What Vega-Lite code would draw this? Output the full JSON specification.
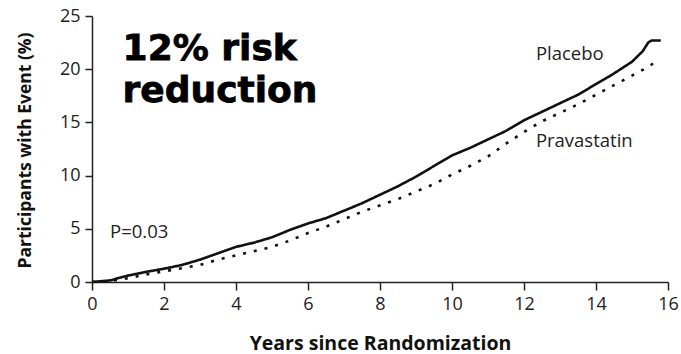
{
  "$schema": "https://vega.github.io/schema/vega-lite/v6.json",
  "width": 576,
  "height": 266,
  "autosize": {"type": "none"},
  "padding": {"left": 92, "top": 16, "right": 13, "bottom": 72},
  "background": "white",
  "config": {
    "view": {"stroke": null},
    "font": "Open Sans"
  },
  "datasets": {
    "curves": [
      {"years": 0, "pct": 0, "group": "Placebo"},
      {"years": 0.5, "pct": 0.15, "group": "Placebo"},
      {"years": 1.0, "pct": 0.6, "group": "Placebo"},
      {"years": 1.5, "pct": 0.95, "group": "Placebo"},
      {"years": 2.0, "pct": 1.25, "group": "Placebo"},
      {"years": 2.5, "pct": 1.6, "group": "Placebo"},
      {"years": 3.0, "pct": 2.1, "group": "Placebo"},
      {"years": 3.5, "pct": 2.7, "group": "Placebo"},
      {"years": 4.0, "pct": 3.3, "group": "Placebo"},
      {"years": 4.5, "pct": 3.7, "group": "Placebo"},
      {"years": 5.0, "pct": 4.2, "group": "Placebo"},
      {"years": 5.5, "pct": 4.9, "group": "Placebo"},
      {"years": 6.0, "pct": 5.5, "group": "Placebo"},
      {"years": 6.5, "pct": 6.0, "group": "Placebo"},
      {"years": 7.0, "pct": 6.7, "group": "Placebo"},
      {"years": 7.5, "pct": 7.4, "group": "Placebo"},
      {"years": 8.0, "pct": 8.2, "group": "Placebo"},
      {"years": 8.5, "pct": 9.0, "group": "Placebo"},
      {"years": 9.0, "pct": 9.9, "group": "Placebo"},
      {"years": 9.5, "pct": 10.9, "group": "Placebo"},
      {"years": 10.0, "pct": 11.9, "group": "Placebo"},
      {"years": 10.5, "pct": 12.6, "group": "Placebo"},
      {"years": 11.0, "pct": 13.4, "group": "Placebo"},
      {"years": 11.5, "pct": 14.2, "group": "Placebo"},
      {"years": 12.0, "pct": 15.2, "group": "Placebo"},
      {"years": 12.5, "pct": 16.0, "group": "Placebo"},
      {"years": 13.0, "pct": 16.8, "group": "Placebo"},
      {"years": 13.5, "pct": 17.6, "group": "Placebo"},
      {"years": 14.0, "pct": 18.6, "group": "Placebo"},
      {"years": 14.5, "pct": 19.6, "group": "Placebo"},
      {"years": 15.0, "pct": 20.7, "group": "Placebo"},
      {"years": 15.3, "pct": 21.7, "group": "Placebo"},
      {"years": 15.45, "pct": 22.5, "group": "Placebo"},
      {"years": 15.55, "pct": 22.7, "group": "Placebo"},
      {"years": 15.8, "pct": 22.7, "group": "Placebo"},
      {"years": 0, "pct": 0, "group": "Pravastatin"},
      {"years": 0.5, "pct": 0.1, "group": "Pravastatin"},
      {"years": 1.0, "pct": 0.35, "group": "Pravastatin"},
      {"years": 1.5, "pct": 0.7, "group": "Pravastatin"},
      {"years": 2.0, "pct": 1.0, "group": "Pravastatin"},
      {"years": 2.5, "pct": 1.3, "group": "Pravastatin"},
      {"years": 3.0, "pct": 1.6, "group": "Pravastatin"},
      {"years": 3.5, "pct": 2.1, "group": "Pravastatin"},
      {"years": 4.0, "pct": 2.5, "group": "Pravastatin"},
      {"years": 4.5, "pct": 2.9, "group": "Pravastatin"},
      {"years": 5.0, "pct": 3.3, "group": "Pravastatin"},
      {"years": 5.5, "pct": 3.9, "group": "Pravastatin"},
      {"years": 6.0, "pct": 4.6, "group": "Pravastatin"},
      {"years": 6.5, "pct": 5.2, "group": "Pravastatin"},
      {"years": 7.0, "pct": 5.9, "group": "Pravastatin"},
      {"years": 7.5, "pct": 6.6, "group": "Pravastatin"},
      {"years": 8.0, "pct": 7.2, "group": "Pravastatin"},
      {"years": 8.5, "pct": 7.8, "group": "Pravastatin"},
      {"years": 9.0, "pct": 8.5, "group": "Pravastatin"},
      {"years": 9.5, "pct": 9.2, "group": "Pravastatin"},
      {"years": 10.0, "pct": 10.1, "group": "Pravastatin"},
      {"years": 10.5, "pct": 10.9, "group": "Pravastatin"},
      {"years": 11.0, "pct": 11.8, "group": "Pravastatin"},
      {"years": 11.5, "pct": 13.0, "group": "Pravastatin"},
      {"years": 12.0, "pct": 14.1, "group": "Pravastatin"},
      {"years": 12.5, "pct": 15.1, "group": "Pravastatin"},
      {"years": 13.0, "pct": 15.9, "group": "Pravastatin"},
      {"years": 13.5, "pct": 16.7, "group": "Pravastatin"},
      {"years": 14.0, "pct": 17.6, "group": "Pravastatin"},
      {"years": 14.5, "pct": 18.5, "group": "Pravastatin"},
      {"years": 15.0, "pct": 19.4, "group": "Pravastatin"},
      {"years": 15.5, "pct": 20.3, "group": "Pravastatin"},
      {"years": 15.7, "pct": 20.9, "group": "Pravastatin"}
    ],
    "headline": [
      {"years": 0.85, "pct": 20.9, "label": "12% risk"},
      {"years": 0.85, "pct": 16.9, "label": "reduction"}
    ],
    "series_labels": [
      {"years": 12.33, "pct": 20.9, "label": "Placebo"},
      {"years": 12.33, "pct": 12.7, "label": "Pravastatin"},
      {"years": 0.5, "pct": 4.1, "label": "P=0.03"}
    ]
  },
  "encoding": {
    "x": {
      "field": "years",
      "type": "quantitative",
      "scale": {"domain": [0, 16], "nice": false, "zero": false},
      "axis": {
        "values": [0, 2, 4, 6, 8, 10, 12, 14, 16],
        "title": "Years since Randomization",
        "titleFont": "Open Sans",
        "titleFontSize": 19.5,
        "titleFontWeight": "bold",
        "titleColor": "#111",
        "titleBaseline": "alphabetic",
        "titleY": 67,
        "grid": false,
        "domainColor": "#222",
        "domainWidth": 1.5,
        "tickColor": "#222",
        "tickWidth": 1.5,
        "tickSize": 8,
        "labelFont": "Open Sans",
        "labelFontSize": 18,
        "labelColor": "#222",
        "labelPadding": 5,
        "labelFlush": false
      }
    },
    "y": {
      "field": "pct",
      "type": "quantitative",
      "scale": {"domain": [0, 25], "nice": false},
      "axis": {
        "values": [0, 5, 10, 15, 20, 25],
        "title": "Participants with Event (%)",
        "titleFont": "Open Sans",
        "titleFontSize": 17.5,
        "titleFontWeight": "bold",
        "titleColor": "#111",
        "titleBaseline": "alphabetic",
        "titleAngle": 270,
        "titleX": -62,
        "titleY": 134,
        "grid": false,
        "domainColor": "#222",
        "domainWidth": 1.5,
        "tickColor": "#222",
        "tickWidth": 1.5,
        "tickSize": 7,
        "labelFont": "Open Sans",
        "labelFontSize": 18,
        "labelColor": "#222",
        "labelPadding": 5,
        "labelFlush": false
      }
    }
  },
  "layer": [
    {
      "data": {"name": "curves"},
      "mark": {"type": "line", "color": "#111", "strokeWidth": 2.6, "interpolate": "linear"},
      "encoding": {
        "detail": {"field": "group", "type": "nominal"},
        "strokeDash": {
          "field": "group",
          "type": "nominal",
          "scale": {"domain": ["Placebo", "Pravastatin"], "range": [[1, 0], [3, 8]]},
          "legend": null
        }
      }
    },
    {
      "data": {"name": "headline"},
      "mark": {"type": "text", "align": "left", "baseline": "alphabetic", "font": "DejaVu Sans", "fontWeight": "bold", "fontSize": 36, "color": "#000", "stroke": "#000", "strokeWidth": 0.8},
      "encoding": {"text": {"field": "label", "type": "nominal"}}
    },
    {
      "data": {"name": "series_labels"},
      "mark": {"type": "text", "align": "left", "baseline": "alphabetic", "font": "Open Sans", "fontSize": 18.5, "color": "#222"},
      "encoding": {"text": {"field": "label", "type": "nominal"}}
    }
  ]
}
